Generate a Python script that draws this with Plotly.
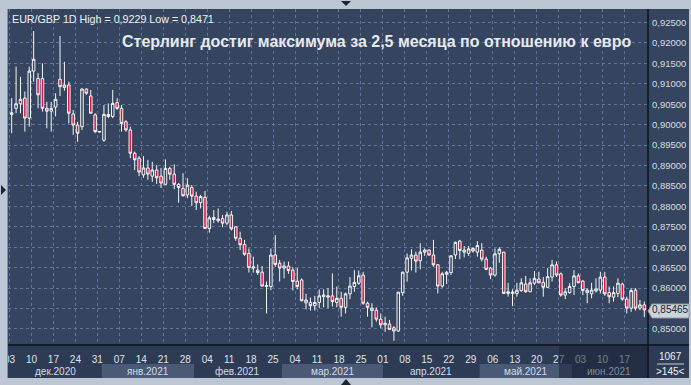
import numpy as np
import pandas as pd
import plotly.graph_objects as go

# ---------------- data ----------------
dates = pd.bdate_range("2020-12-03", "2021-06-23")  # 145 daily bars

open_ = [0.9025, 0.9040, 0.9051, 0.9065, 0.9016, 0.9131, 0.9113, 0.9113, 0.9040, 0.9033,
         0.9043, 0.9111, 0.9091, 0.9097, 0.9026, 0.8999, 0.8995, 0.9087, 0.9070, 0.9024,
         0.8982, 0.8962, 0.9025, 0.9020, 0.9054, 0.9040, 0.9007, 0.8987, 0.8930, 0.8918,
         0.8877, 0.8894, 0.8874, 0.8889, 0.8874, 0.8854, 0.8893, 0.8879, 0.8854, 0.8844,
         0.8828, 0.8846, 0.8825, 0.8809, 0.8822, 0.8746, 0.8773, 0.8765, 0.8770, 0.8759,
         0.8779, 0.8750, 0.8722, 0.8707, 0.8685, 0.8649, 0.8644, 0.8639, 0.8604, 0.8604,
         0.8681, 0.8661, 0.8649, 0.8654, 0.8644, 0.8617, 0.8620, 0.8564, 0.8565, 0.8557,
         0.8565, 0.8579, 0.8578, 0.8581, 0.8565, 0.8575, 0.8553, 0.8586, 0.8604, 0.8612,
         0.8632, 0.8563, 0.8545, 0.8546, 0.8524, 0.8510, 0.8512, 0.8503, 0.8495, 0.8589,
         0.8639, 0.8673, 0.8681, 0.8667, 0.8688, 0.8693, 0.8681, 0.8657, 0.8605, 0.8639,
         0.8638, 0.8681, 0.8715, 0.8688, 0.8685, 0.8697, 0.8688, 0.8693, 0.8671, 0.8649,
         0.8632, 0.8684, 0.8688, 0.8587, 0.8587, 0.8587, 0.8594, 0.8610, 0.8591, 0.8612,
         0.8622, 0.8614, 0.8602, 0.8627, 0.8657, 0.8635, 0.8583, 0.8589, 0.8604, 0.8630,
         0.8617, 0.8589, 0.8586, 0.8593, 0.8595, 0.8627, 0.8589, 0.8578, 0.8587, 0.8610,
         0.8573, 0.8551, 0.8595, 0.8551, 0.8559]
high = [0.9065, 0.9142, 0.9117, 0.9081, 0.9142, 0.9229, 0.9126, 0.9150, 0.9056, 0.9056,
        0.9077, 0.9217, 0.9154, 0.9105, 0.9036, 0.9007, 0.9089, 0.9089, 0.9085, 0.9028,
        0.8984, 0.9048, 0.9052, 0.9085, 0.9065, 0.9048, 0.9011, 0.8995, 0.8934, 0.8923,
        0.8923, 0.8914, 0.8909, 0.8901, 0.8894, 0.8915, 0.8897, 0.8903, 0.8857, 0.8881,
        0.8869, 0.8852, 0.8836, 0.8828, 0.8838, 0.8777, 0.8791, 0.8795, 0.8779, 0.8787,
        0.8789, 0.8752, 0.8738, 0.8718, 0.8697, 0.8677, 0.8658, 0.8654, 0.8616, 0.8697,
        0.8730, 0.8669, 0.8665, 0.8665, 0.8651, 0.8649, 0.8624, 0.8586, 0.8577, 0.8581,
        0.8597, 0.8597, 0.8600, 0.8636, 0.8604, 0.8591, 0.8589, 0.8627, 0.8644, 0.8643,
        0.8640, 0.8567, 0.8563, 0.8553, 0.8538, 0.8530, 0.8522, 0.8507, 0.8591, 0.8640,
        0.8685, 0.8695, 0.8689, 0.8710, 0.8697, 0.8695, 0.8718, 0.8659, 0.8640, 0.8642,
        0.8681, 0.8714, 0.8718, 0.8703, 0.8703, 0.8700, 0.8715, 0.8710, 0.8677, 0.8652,
        0.8697, 0.8700, 0.8689, 0.8613, 0.8597, 0.8613, 0.8624, 0.8630, 0.8624, 0.8642,
        0.8640, 0.8627, 0.8649, 0.8669, 0.8665, 0.8638, 0.8600, 0.8612, 0.8644, 0.8636,
        0.8620, 0.8600, 0.8613, 0.8624, 0.8640, 0.8640, 0.8604, 0.8604, 0.8624, 0.8613,
        0.8579, 0.8600, 0.8600, 0.8571, 0.8567]
low = [0.8979, 0.9028, 0.9028, 0.8983, 0.8995, 0.9105, 0.9040, 0.9032, 0.8991, 0.8983,
       0.9020, 0.9070, 0.9083, 0.9003, 0.8975, 0.8958, 0.8987, 0.9073, 0.9028, 0.8979,
       0.8981, 0.8958, 0.9016, 0.9016, 0.9036, 0.8983, 0.8983, 0.8918, 0.8889, 0.8874,
       0.8870, 0.8865, 0.8860, 0.8855, 0.8845, 0.8853, 0.8865, 0.8842, 0.8809, 0.8824,
       0.8820, 0.8801, 0.8791, 0.8795, 0.8745, 0.8736, 0.8759, 0.8760, 0.8749, 0.8754,
       0.8741, 0.8716, 0.8693, 0.8679, 0.8638, 0.8638, 0.8632, 0.8604, 0.8538, 0.8595,
       0.8652, 0.8616, 0.8624, 0.8635, 0.8594, 0.8597, 0.8568, 0.8548, 0.8545, 0.8545,
       0.8551, 0.8553, 0.8551, 0.8555, 0.8553, 0.8530, 0.8538, 0.8573, 0.8591, 0.8608,
       0.8559, 0.8530, 0.8504, 0.8518, 0.8502, 0.8493, 0.8498, 0.8471, 0.8493, 0.8581,
       0.8616, 0.8643, 0.8638, 0.8646, 0.8679, 0.8679, 0.8652, 0.8587, 0.8601, 0.8610,
       0.8632, 0.8671, 0.8671, 0.8675, 0.8679, 0.8687, 0.8677, 0.8665, 0.8644, 0.8622,
       0.8628, 0.8662, 0.8586, 0.8579, 0.8556, 0.8579, 0.8591, 0.8589, 0.8590, 0.8608,
       0.8612, 0.8579, 0.8600, 0.8616, 0.8627, 0.8579, 0.8573, 0.8586, 0.8583, 0.8612,
       0.8583, 0.8563, 0.8575, 0.8589, 0.8587, 0.8581, 0.8563, 0.8567, 0.8578, 0.8569,
       0.8538, 0.8542, 0.8545, 0.8546, 0.8529]
close = [0.9029, 0.9051, 0.9062, 0.9016, 0.9131, 0.9160, 0.9073, 0.9040, 0.9033, 0.9040,
         0.9062, 0.9093, 0.9097, 0.9028, 0.8999, 0.8979, 0.9087, 0.9077, 0.9028, 0.8983,
         0.8983, 0.9025, 0.9020, 0.9052, 0.9040, 0.9003, 0.8987, 0.8930, 0.8914, 0.8884,
         0.8894, 0.8879, 0.8889, 0.8870, 0.8857, 0.8893, 0.8879, 0.8854, 0.8846, 0.8826,
         0.8852, 0.8825, 0.8809, 0.8824, 0.8746, 0.8772, 0.8768, 0.8769, 0.8759, 0.8779,
         0.8745, 0.8722, 0.8706, 0.8683, 0.8650, 0.8652, 0.8638, 0.8605, 0.8606, 0.8681,
         0.8658, 0.8649, 0.8654, 0.8643, 0.8616, 0.8604, 0.8569, 0.8571, 0.8557, 0.8565,
         0.8581, 0.8583, 0.8581, 0.8567, 0.8575, 0.8553, 0.8586, 0.8605, 0.8614, 0.8630,
         0.8563, 0.8553, 0.8551, 0.8524, 0.8510, 0.8514, 0.8499, 0.8495, 0.8590, 0.8639,
         0.8674, 0.8681, 0.8666, 0.8688, 0.8693, 0.8681, 0.8657, 0.8605, 0.8635, 0.8634,
         0.8679, 0.8712, 0.8692, 0.8693, 0.8696, 0.8691, 0.8704, 0.8671, 0.8646, 0.8632,
         0.8684, 0.8695, 0.8587, 0.8591, 0.8590, 0.8595, 0.8613, 0.8591, 0.8613, 0.8624,
         0.8613, 0.8602, 0.8628, 0.8657, 0.8632, 0.8583, 0.8591, 0.8604, 0.8630, 0.8613,
         0.8594, 0.8595, 0.8595, 0.8598, 0.8627, 0.8586, 0.8579, 0.8589, 0.8612, 0.8573,
         0.8551, 0.8594, 0.8551, 0.8559, 0.85465]

month_names = {12: "дек", 1: "янв", 2: "фев", 3: "мар", 4: "апр", 5: "май", 6: "июн"}
y_ticks = [0.850, 0.855, 0.860, 0.865, 0.870, 0.875, 0.880, 0.885,
           0.890, 0.895, 0.900, 0.905, 0.910, 0.915, 0.920, 0.925]
header_text = "EUR/GBP 1D High = 0,9229 Low = 0,8471"
title_text = "Стерлинг достиг максимума за 2,5 месяца по отношению к евро"
last_price = 0.85465
bars_total = "1067"
bars_visible = ">145<"

# ---------------- layout geometry (pixels) ----------------
W, H = 691, 385
L, R, T, B = 8, 648, 9, 345
BG = "#35445f"
FRAME = "#bcc7d3"
GRID = "#62749a"
FONT = "Liberation Sans, Arial, sans-serif"

def px(x):
    return (x - L) / (R - L)

def py(y):
    return (B - y) / (B - T)

idx = np.arange(len(dates))
xr = [-0.84, len(dates) - 1 + 0.84]
yr = [0.84608, 0.92830]

def ipix(i):
    return L + (i - xr[0]) / (xr[1] - xr[0]) * (R - L)

def fmt(v):
    return f"{v:.5f}".replace(".", ",")

thursdays = [i for i, d in enumerate(dates) if d.weekday() == 3]
tickvals = [i - 0.5 for i in thursdays]
ticktext = [dates[i].strftime("%d") for i in thursdays]
# the 0,85500 label is hidden under the last-price marker
y_ticktext = ["" if abs(v - 0.855) < 1e-9 else fmt(v) for v in y_ticks]

fig = go.Figure()
fig.add_trace(go.Candlestick(
    x=idx, open=open_, high=high, low=low, close=close,
    increasing=dict(line=dict(color="#f6f6f6", width=1), fillcolor=BG),
    decreasing=dict(line=dict(color="#f6f6f6", width=1), fillcolor="#e5123e"),
    hoverinfo="skip", showlegend=False,
))

shapes = []
shapes.append(dict(type="rect", xref="paper", yref="paper", layer="below",
                   x0=px(8), x1=px(689), y0=py(378), y1=py(9),
                   fillcolor=BG, line=dict(width=0)))
shapes.append(dict(type="rect", xref="paper", yref="paper", layer="below",
                   x0=px(8), x1=px(689), y0=py(378), y1=py(345),
                   fillcolor="#2e3b55", line=dict(width=0)))

annotations = []
months = pd.Series(idx).groupby([dates.year, dates.month])
band_i = 0
for (yy, mm), grp in months:
    i0, i1 = grp.iloc[0] - 0.5, grp.iloc[-1] + 0.5
    x0, x1 = max(ipix(i0), L), min(ipix(i1), R)
    if band_i % 2 == 1:
        shapes.append(dict(type="rect", xref="paper", yref="paper", layer="below",
                           x0=px(x0), x1=px(x1), y0=py(378), y1=py(364),
                           fillcolor="#4a5975", line=dict(width=0)))
    annotations.append(dict(xref="paper", yref="paper", x=px((x0 + x1) / 2), y=py(371),
                            text=f"{month_names[mm]}.{yy}", showarrow=False,
                            xanchor="center", yanchor="middle",
                            font=dict(family=FONT, size=10,
                                      color="#7f8ca3" if mm == 6 else "#d5dde7")))
    band_i += 1

shapes.append(dict(type="line", xref="paper", yref="paper", layer="above",
                   x0=px(648), x1=px(648), y0=py(378), y1=py(9),
                   line=dict(color="#0c111a", width=1.5)))
shapes.append(dict(type="line", xref="paper", yref="paper", layer="above",
                   x0=px(8), x1=px(689), y0=py(345), y1=py(345),
                   line=dict(color="#0c111a", width=1.5)))
shapes.append(dict(type="rect", xref="paper", yref="paper", layer="above",
                   x0=px(559), x1=px(647), y0=py(378), y1=py(346),
                   fillcolor="rgba(28,36,55,0.55)", line=dict(width=0)))
for (a, b, c, d) in [(0, 8, 0, 385), (0, 691, 0, 9), (0, 691, 378, 385), (689, 691, 0, 385)]:
    shapes.append(dict(type="rect", xref="paper", yref="paper", layer="above",
                       x0=px(a), x1=px(b), y0=py(d), y1=py(c),
                       fillcolor=FRAME, line=dict(width=0)))
shapes.append(dict(type="line", xref="paper", yref="paper", layer="above",
                   x0=px(7.5), x1=px(7.5), y0=py(378), y1=py(9),
                   line=dict(color="#8291a5", width=1)))

def tri(pts):
    return "M " + " L ".join(f"{px(a)},{py(b)}" for a, b in pts) + " Z"

for pts in [[(341, 1), (351, 1), (346, 6)], [(1, 185), (1, 195), (6, 190)],
            [(341, 385), (351, 385), (346, 379)]]:
    shapes.append(dict(type="path", xref="paper", yref="paper", layer="above",
                       path=tri(pts), fillcolor="#1d2531", line=dict(width=0)))
shapes.append(dict(type="path", xref="paper", yref="paper", layer="above",
                   path=tri([(652, 304), (689, 304), (689, 318), (652, 318), (648, 311)]),
                   fillcolor="#cdd3db", line=dict(color="#8f9aa8", width=1)))
shapes.append(dict(type="line", xref="paper", yref="paper", layer="above",
                   x0=px(657), x1=px(684), y0=py(364), y1=py(364),
                   line=dict(color="#c8d0da", width=1)))

annotations += [
    dict(xref="paper", yref="paper", x=px(10), y=py(19), text=header_text, showarrow=False,
         xanchor="left", yanchor="middle", font=dict(family=FONT, size=10.7, color="#eef2f6")),
    dict(xref="paper", yref="paper", x=px(120), y=py(42), text=f"<b>{title_text}</b>",
         showarrow=False, xanchor="left", yanchor="middle",
         font=dict(family=FONT, size=16, color="#e6eaef")),
    dict(xref="paper", yref="y", x=px(670.5), y=last_price, text=fmt(last_price), showarrow=False,
         xanchor="center", yanchor="middle", font=dict(family=FONT, size=10, color="#1b2230")),
    dict(xref="paper", yref="paper", x=px(670), y=py(356.5), text=bars_total, showarrow=False,
         xanchor="center", yanchor="middle", font=dict(family=FONT, size=10, color="#eef2f6")),
    dict(xref="paper", yref="paper", x=px(670), y=py(371.5), text=bars_visible, showarrow=False,
         xanchor="center", yanchor="middle", font=dict(family=FONT, size=10, color="#eef2f6")),
]

fig.update_layout(
    template="none",
    width=W, height=H, autosize=False,
    margin=dict(l=L, r=W - R, t=T, b=H - B, pad=0, autoexpand=False),
    paper_bgcolor=FRAME, plot_bgcolor="rgba(0,0,0,0)",
    showlegend=False, hovermode=False, boxgap=0.18,
    shapes=shapes, annotations=annotations,
    xaxis=dict(type="linear", range=xr, rangeslider=dict(visible=False), automargin=False,
               tickmode="array", tickvals=tickvals, ticktext=ticktext,
               showgrid=True, gridcolor=GRID, griddash="3px,3px", gridwidth=1,
               zeroline=False, showline=False, ticks="",
               tickfont=dict(family=FONT, size=10, color="#dde4ec"),
               ticklabelstandoff=7, fixedrange=True),
    yaxis=dict(side="right", range=yr, tickmode="array", tickvals=y_ticks,
               ticktext=y_ticktext, automargin=False,
               showgrid=True, gridcolor=GRID, griddash="3px,3px",
               gridwidth=1, zeroline=False, showline=False, ticks="",
               tickfont=dict(family=FONT, size=9.5, color="#d6dee8"),
               ticklabelstandoff=3, fixedrange=True),
)

fig.write_html("out.html", config={"staticPlot": True},
               post_script="document.body.style.margin='0';document.body.style.overflow='hidden';")
